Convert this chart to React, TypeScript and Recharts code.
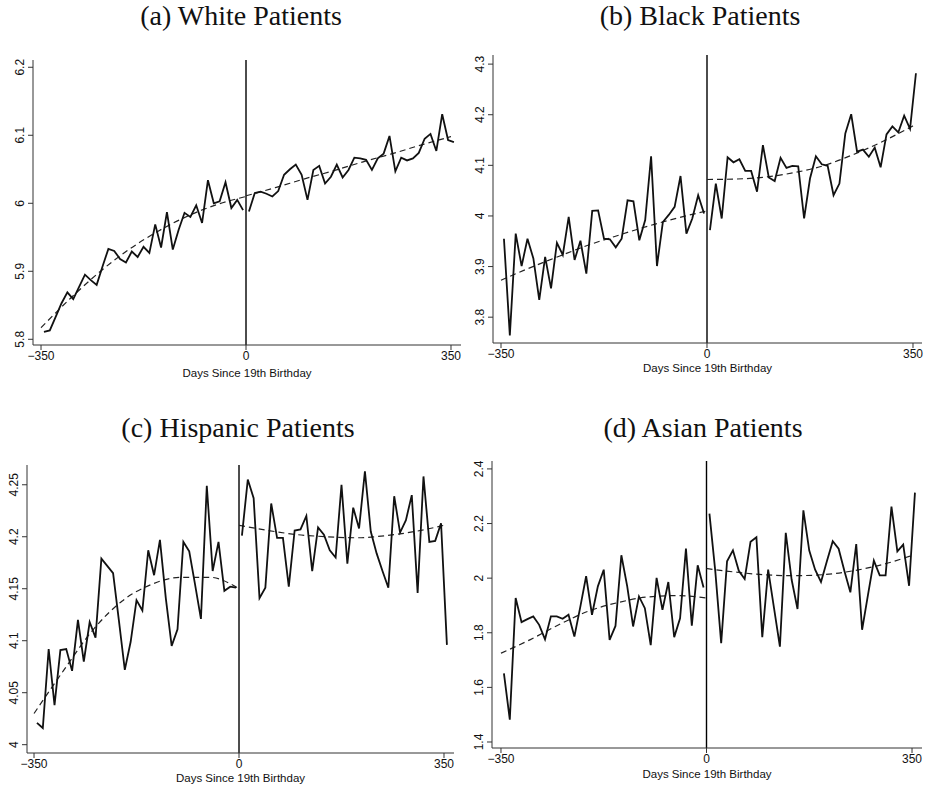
import { LineChart, Line, XAxis, YAxis, ReferenceLine } from 'recharts';

// bin centres (days relative to the 19th birthday)
const leftDays = [-345, -335, -325, -315, -305, -295, -285, -275, -265, -255, -245, -235, -225, -215, -205, -195, -185, -175, -165, -155, -145, -135, -125, -115, -105, -95, -85, -75, -65, -55, -45, -35, -25, -15, -5];
const rightDays = [5, 15, 25, 35, 45, 55, 65, 75, 85, 95, 105, 115, 125, 135, 145, 155, 165, 175, 185, 195, 205, 215, 225, 235, 245, 255, 265, 275, 285, 295, 305, 315, 325, 335, 345, 355];
const fitLeftDays = [-350, -300, -250, -200, -150, -100, -50, 0];
const fitRightDays = [0, 50, 100, 150, 200, 250, 300, 350];

const xTicks = [-350, 0, 350];

// (a) White
const whiteLeft = [5.811, 5.813, 5.833, 5.853, 5.869, 5.859, 5.877, 5.895, 5.887, 5.880, 5.907, 5.933, 5.930, 5.918, 5.913, 5.929, 5.921, 5.936, 5.927, 5.969, 5.935, 5.987, 5.932, 5.961, 5.986, 5.980, 5.997, 5.971, 6.034, 6.000, 6.003, 6.031, 5.993, 6.005, 5.990];
const whiteRight = [5.988, 6.015, 6.017, 6.014, 6.010, 6.018, 6.042, 6.050, 6.057, 6.042, 6.005, 6.049, 6.055, 6.029, 6.039, 6.057, 6.038, 6.049, 6.067, 6.066, 6.064, 6.049, 6.066, 6.073, 6.099, 6.047, 6.067, 6.063, 6.066, 6.074, 6.095, 6.102, 6.077, 6.131, 6.093, 6.090];
const whiteFitLeft = [5.817, 5.860, 5.899, 5.932, 5.959, 5.981, 5.998, 6.010];
const whiteFitRight = [6.011, 6.023, 6.036, 6.048, 6.061, 6.073, 6.086, 6.098];
const whiteTicks = [5.8, 5.9, 6, 6.1, 6.2];

// (b) Black
const blackLeft = [3.955, 3.764, 3.965, 3.901, 3.955, 3.916, 3.834, 3.919, 3.857, 3.947, 3.923, 3.998, 3.913, 3.951, 3.886, 4.010, 4.011, 3.955, 3.954, 3.938, 3.955, 4.031, 4.029, 3.952, 3.992, 4.118, 3.901, 3.988, 4.002, 4.018, 4.079, 3.965, 3.995, 4.041, 4.005];
const blackRight = [3.972, 4.064, 3.995, 4.116, 4.106, 4.112, 4.089, 4.089, 4.048, 4.140, 4.076, 4.069, 4.115, 4.095, 4.099, 4.098, 3.995, 4.074, 4.118, 4.102, 4.099, 4.041, 4.064, 4.163, 4.201, 4.127, 4.131, 4.117, 4.135, 4.096, 4.161, 4.177, 4.165, 4.198, 4.172, 4.282];
const blackFitLeft = [3.873, 3.898, 3.921, 3.943, 3.962, 3.980, 3.996, 4.010];
const blackFitRight = [4.072, 4.073, 4.077, 4.086, 4.100, 4.122, 4.148, 4.178];
const blackTicks = [3.8, 3.9, 4, 4.1, 4.2, 4.3];

// (c) Hispanic
const hispLeft = [4.021, 4.016, 4.092, 4.038, 4.091, 4.092, 4.071, 4.120, 4.080, 4.118, 4.103, 4.179, 4.172, 4.165, 4.119, 4.072, 4.099, 4.139, 4.129, 4.187, 4.163, 4.197, 4.141, 4.095, 4.111, 4.195, 4.186, 4.154, 4.121, 4.249, 4.167, 4.195, 4.148, 4.152, 4.151];
const hispRight = [4.201, 4.255, 4.237, 4.141, 4.151, 4.232, 4.199, 4.199, 4.152, 4.206, 4.207, 4.220, 4.167, 4.209, 4.202, 4.187, 4.180, 4.250, 4.174, 4.228, 4.208, 4.263, 4.205, 4.184, 4.167, 4.151, 4.239, 4.204, 4.216, 4.240, 4.146, 4.258, 4.195, 4.196, 4.213, 4.096];
const hispFitLeft = [4.030, 4.071, 4.110, 4.138, 4.154, 4.161, 4.161, 4.150];
const hispFitRight = [4.211, 4.206, 4.202, 4.200, 4.199, 4.201, 4.205, 4.211];
const hispTicks = [4, 4.05, 4.1, 4.15, 4.2, 4.25];

// (d) Asian
const asianLeft = [1.651, 1.482, 1.927, 1.839, 1.850, 1.860, 1.829, 1.776, 1.860, 1.860, 1.851, 1.866, 1.786, 1.894, 2.007, 1.866, 1.970, 2.031, 1.774, 1.825, 2.084, 1.970, 1.823, 1.933, 1.890, 1.755, 2.001, 1.884, 1.986, 1.784, 1.853, 2.108, 1.826, 2.047, 1.966];
const asianRight = [2.236, 2.025, 1.762, 2.062, 2.102, 2.027, 1.997, 2.133, 2.150, 1.784, 2.031, 1.890, 1.749, 2.166, 1.994, 1.887, 2.248, 2.101, 2.031, 1.986, 2.062, 2.135, 2.108, 2.025, 1.948, 2.125, 1.811, 1.939, 2.064, 2.010, 2.010, 2.262, 2.098, 2.123, 1.972, 2.313];
const asianFitLeft = [1.725, 1.775, 1.831, 1.880, 1.911, 1.931, 1.936, 1.927];
const asianFitRight = [2.035, 2.022, 2.012, 2.009, 2.013, 2.027, 2.050, 2.083];
const asianTicks = [1.4, 1.6, 1.8, 2, 2.2, 2.4];

const zip = (days: number[], vals: number[]) => days.map((day, i) => ({ day, v: vals[i] }));

const sans = '"Liberation Sans", Arial, sans-serif';

const RotTick = (props: any) => {
  const { x, y, payload } = props;
  const tx = x - 2;
  return (
    <text x={tx} y={y} transform={`rotate(-90 ${tx} ${y})`} textAnchor="middle" fontSize={12} fontFamily={sans} fill="#111">
      {String(payload.value)}
    </text>
  );
};

type PanelProps = {
  title: string;
  titleX: number;
  titleY: number;
  box: [number, number, number, number]; // plot left, top, right, bottom
  xDomain: [number, number];
  yDomain: [number, number];
  yTicks: number[];
  left: number[];
  right: number[];
  fitL: number[];
  fitR: number[];
  labelOffset: number;
};

function Panel(p: PanelProps) {
  const [pl, pt, pr, pb] = p.box;
  const cl = pl - 40;
  const ct = pt - 10;
  const w = pr - cl + 2;
  const h = pb - ct + 45;
  const axisStroke = '#333';
  return (
    <>
      <div
        style={{
          position: 'absolute',
          left: p.titleX - 200,
          width: 400,
          top: p.titleY - 15,
          textAlign: 'center',
          fontFamily: '"Liberation Serif", "Times New Roman", serif',
          fontSize: 28,
          lineHeight: '30px',
          color: '#111',
        }}
      >
        {p.title}
      </div>
      <div style={{ position: 'absolute', left: cl, top: ct }}>
        <LineChart width={w} height={h} margin={{ top: 10, right: 2, bottom: 5, left: 0 }}>
          <XAxis
            dataKey="day"
            type="number"
            domain={p.xDomain}
            allowDataOverflow
            ticks={xTicks}
            height={40}
            tickSize={5}
            tickMargin={1}
            stroke={axisStroke}
            tick={{ fontSize: 12, fontFamily: sans, fill: '#111' }}
            tickFormatter={(v: number) => (v < 0 ? `\u2212${-v}` : String(v))}
            label={{
              value: 'Days Since 19th Birthday',
              position: 'insideBottom',
              offset: p.labelOffset,
              style: { fontSize: 11.5, fontFamily: sans, fill: '#111' },
            }}
          />
          <XAxis xAxisId="top" orientation="top" type="number" domain={[0, 1]} height={0} tick={false} tickLine={false} stroke={axisStroke} />
          <YAxis
            type="number"
            domain={p.yDomain}
            allowDataOverflow
            ticks={p.yTicks}
            width={40}
            tickSize={5}
            stroke={axisStroke}
            tick={<RotTick />}
          />
          <YAxis yAxisId="right" orientation="right" type="number" domain={[0, 1]} width={0} tick={false} tickLine={false} stroke={axisStroke} />
          <ReferenceLine x={0} stroke="#000" strokeWidth={1.4} />
          <Line data={zip(fitLeftDays, p.fitL)} dataKey="v" type="monotone" stroke="#222" strokeWidth={1.2} strokeDasharray="6 4" dot={false} isAnimationActive={false} />
          <Line data={zip(fitRightDays, p.fitR)} dataKey="v" type="monotone" stroke="#222" strokeWidth={1.2} strokeDasharray="6 4" dot={false} isAnimationActive={false} />
          <Line data={zip(leftDays, p.left)} dataKey="v" type="linear" stroke="#111" strokeWidth={1.8} dot={false} isAnimationActive={false} />
          <Line data={zip(rightDays, p.right)} dataKey="v" type="linear" stroke="#111" strokeWidth={1.8} dot={false} isAnimationActive={false} />
        </LineChart>
      </div>
    </>
  );
}

export default function App() {
  return (
    <div style={{ position: 'absolute', left: 0, top: 0, width: 925, height: 790, overflow: 'hidden', background: '#fff' }}>
      <Panel
        title="(a) White Patients"
        titleX={241}
        titleY={16}
        box={[33, 60, 461, 345]}
        xDomain={[-363.7, 367.1]}
        yDomain={[5.7916, 6.2107]}
        yTicks={whiteTicks}
        left={whiteLeft}
        right={whiteRight}
        fitL={whiteFitLeft}
        fitR={whiteFitRight}
        labelOffset={8}
      />
      <Panel
        title="(b) Black Patients"
        titleX={700}
        titleY={16}
        box={[493, 55, 922, 343]}
        xDomain={[-363.6, 365.3]}
        yDomain={[3.749, 4.318]}
        yTicks={blackTicks}
        left={blackLeft}
        right={blackRight}
        fitL={blackFitLeft}
        fitR={blackFitRight}
        labelOffset={11}
      />
      <Panel
        title="(c) Hispanic Patients"
        titleX={238}
        titleY={428}
        box={[27, 465, 454, 753]}
        xDomain={[-362, 367.1]}
        yDomain={[3.992, 4.269]}
        yTicks={hispTicks}
        left={hispLeft}
        right={hispRight}
        fitL={hispFitLeft}
        fitR={hispFitRight}
        labelOffset={11}
      />
      <Panel
        title="(d) Asian Patients"
        titleX={703}
        titleY={428}
        box={[492, 461, 922, 748]}
        xDomain={[-365.3, 367]}
        yDomain={[1.378, 2.429]}
        yTicks={asianTicks}
        left={asianLeft}
        right={asianRight}
        fitL={asianFitLeft}
        fitR={asianFitRight}
        labelOffset={10}
      />
    </div>
  );
}
